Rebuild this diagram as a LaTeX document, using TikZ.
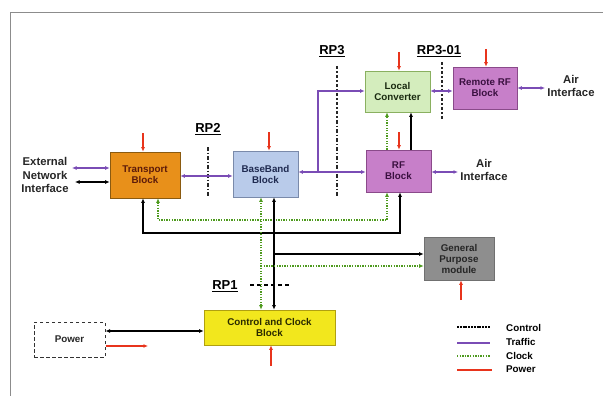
\documentclass[tikz,border=0pt]{standalone}
\usepackage{fontspec}
\setmainfont{Liberation Sans}
\usetikzlibrary{arrows.meta,calc}
\definecolor{trafc}{HTML}{7A4CB5}
\definecolor{clkc}{HTML}{4E9A1E}
\definecolor{pwrc}{HTML}{E8341C}
\definecolor{framec}{HTML}{8C8C8C}
\definecolor{tbfill}{HTML}{E8901A}
\definecolor{tbdraw}{HTML}{8A5A10}
\definecolor{tbtext}{HTML}{5C1A0A}
\definecolor{bbfill}{HTML}{B9CBEA}
\definecolor{bbdraw}{HTML}{7A8AAA}
\definecolor{bbtext}{HTML}{1F2A50}
\definecolor{rffill}{HTML}{C77FC9}
\definecolor{rfdraw}{HTML}{8A4A8A}
\definecolor{rftext}{HTML}{3A1040}
\definecolor{lcfill}{HTML}{D4EDBD}
\definecolor{lcdraw}{HTML}{8AB060}
\definecolor{lctext}{HTML}{1A2A10}
\definecolor{gpfill}{HTML}{8E8E8E}
\definecolor{gpdraw}{HTML}{707070}
\definecolor{ccfill}{HTML}{F2E71D}
\definecolor{ccdraw}{HTML}{B0A010}
\definecolor{cctext}{HTML}{2A2A00}
\begin{document}
\begin{tikzpicture}[x=1pt,y=-1pt,
  >={Latex[length=4.5pt,width=4pt]},
  boxst/.style={draw, line width=0.7pt, inner sep=0pt, align=center,
    font=\bfseries\fontsize{9.8}{11}\selectfont},
  lbl/.style={inner sep=0pt, align=center, font=\bfseries\fontsize{11.3}{13.5}\selectfont},
  rplbl/.style={inner sep=0pt, font=\bfseries\fontsize{13}{15}\selectfont},
  leg/.style={inner sep=0pt, anchor=west, font=\bfseries\fontsize{9.8}{11}\selectfont},
  ctl/.style={draw=black, line width=1.3pt},
  tr/.style={draw=trafc, line width=1.6pt},
  clk/.style={draw=clkc, line width=1.6pt, dash pattern=on 1.3pt off 1.3pt},
  pwr/.style={draw=pwrc, line width=1.6pt},
  rpline/.style={draw=black!85, line width=1.3pt, dash pattern=on 3.5pt off 2pt on 1.5pt off 2pt}]
\useasboundingbox (0,0) rectangle (603,396);
% frame
\draw[framec, line width=1pt] (10,396) -- (10,13) -- (603,13);

% blocks
\node[boxst, fill=tbfill, draw=tbdraw, text=tbtext, minimum width=70pt, minimum height=46pt] (tb) at (145,175) {Transport\\Block};
\node[boxst, fill=bbfill, draw=bbdraw, text=bbtext, minimum width=65pt, minimum height=46pt] (bb) at (265.5,174) {BaseBand\\Block};
\node[boxst, fill=rffill, draw=rfdraw, text=rftext, minimum width=65pt, minimum height=42pt] (rf) at (398.5,171) {RF\\Block};
\node[boxst, fill=lcfill, draw=lcdraw, text=lctext, minimum width=65pt, minimum height=41pt] (lc) at (397.5,91.5) {Local\\Converter};
\node[boxst, fill=rffill, draw=rfdraw, text=rftext, minimum width=64pt, minimum height=42pt] (rrf) at (485,88) {Remote RF\\Block};
\node[boxst, fill=gpfill, draw=gpdraw, text=black!85, minimum width=70pt, minimum height=43pt] (gp) at (459,258.5) {General\\Purpose\\module};
\node[boxst, fill=ccfill, draw=ccdraw, text=cctext, minimum width=131pt, minimum height=35pt] (cc) at (269.5,327.5) {Control and Clock\\Block};
\node[boxst, draw=black!80, dash pattern=on 3.5pt off 2.5pt, line width=1pt, text=black!85, minimum width=71pt, minimum height=35pt] (pw) at (69.5,339.5) {Power};

% outside labels
\node[lbl, text=black!85] (ext) at (45,175) {External\\Network\\Interface};
\node[lbl, text=black!85] (air1) at (484,170) {Air\\Interface};
\node[lbl, text=black!85] (air2) at (571,86) {Air\\Interface};
\node[rplbl] (rp2) at (208,129) {\underline{RP2}};
\node[rplbl] (rp3) at (332,51) {\underline{RP3}};
\node[rplbl] (rp301) at (439,51) {\underline{RP3-01}};
\node[rplbl] (rp1) at (225,286) {\underline{RP1}};

% reference point lines
\draw[rpline] (208,147) -- (208,196);
\draw[rpline] (337,66) -- (337,197);
\draw[rpline] (442,62) -- (442,121);
\draw[black, line width=1.1pt, dash pattern=on 4pt off 3pt] (250,285) -- (289,285);

% external interface
\coordinate (extp) at (72,168);
\coordinate (extc) at (75,182);
\draw[tr,<->] (extp) -- (tb.west |- extp);
\draw[ctl,<->] (extc) -- (tb.west |- extc);

% traffic
\draw[tr,<->] (tb.east |- 0,176) -- (bb.west |- 0,176);
\draw[tr,<->] (bb.east |- 0,172) -- (rf.west |- 0,172);
\coordinate (br) at (318,172);
\draw[tr,->] (br) -- (318,91) -- (lc.west |- 0,91);
\draw[tr,<->] (lc.east |- 0,91) -- (rrf.west |- 0,91);
\coordinate (air2e) at (545,88);
\draw[tr,<->] (rrf.east |- air2e) -- (air2e);
\coordinate (air1e) at (458,172);
\draw[tr,<->] (rf.east |- air1e) -- (air1e);

% RF to local converter
\draw[clk,->] (387,0 |- rf.north) -- (387,0 |- lc.south);
\draw[ctl,->] (411,0 |- rf.north) -- (411,0 |- lc.south);

% control/clock buses
\draw[clk,<->] (158,0 |- tb.south) -- (158,220) -- (387,220) -- (387,0 |- rf.south);
\draw[ctl,<->] (143,0 |- tb.south) -- (143,233) -- (400,233) -- (400,0 |- rf.south);
\draw[clk,<->] (261,0 |- cc.north) -- (261,0 |- bb.south);
\draw[ctl,<->] (274,0 |- cc.north) -- (274,0 |- bb.south);
\draw[ctl,->] (274,254) -- (gp.west |- 0,254);
\draw[clk,->] (261,266) -- (gp.west |- 0,266);

% power box
\draw[ctl,<->] (pw.east |- 0,331) -- (cc.west |- 0,331);
\coordinate (pwe) at (148,346);
\draw[pwr,->] (pw.east |- pwe) -- (pwe);

% power arrows
\draw[pwr,->] (143,133) -- (143,0 |- tb.north);
\draw[pwr,->] (269,132) -- (269,0 |- bb.north);
\draw[pwr,->] (399,132) -- (399,0 |- rf.north);
\draw[pwr,->] (399,52) -- (399,0 |- lc.north);
\draw[pwr,->] (486,49) -- (486,0 |- rrf.north);
\draw[pwr,->] (461,300) -- (461,0 |- gp.south);
\draw[pwr,->] (271,366) -- (271,0 |- cc.south);

% legend
\draw[black, line width=1.2pt, dash pattern=on 2pt off 0.8pt] (457,327) -- (490,327);
\draw[tr] (457,343) -- (490,343);
\draw[clk] (457,356) -- (490,356);
\draw[pwr] (457,370) -- (492,370);
\node[leg] (lg1) at (506,328) {Control};
\node[leg] (lg2) at (506,342) {Traffic};
\node[leg] (lg3) at (506,356) {Clock};
\node[leg] (lg4) at (506,369) {Power};
\end{tikzpicture}
\end{document}
